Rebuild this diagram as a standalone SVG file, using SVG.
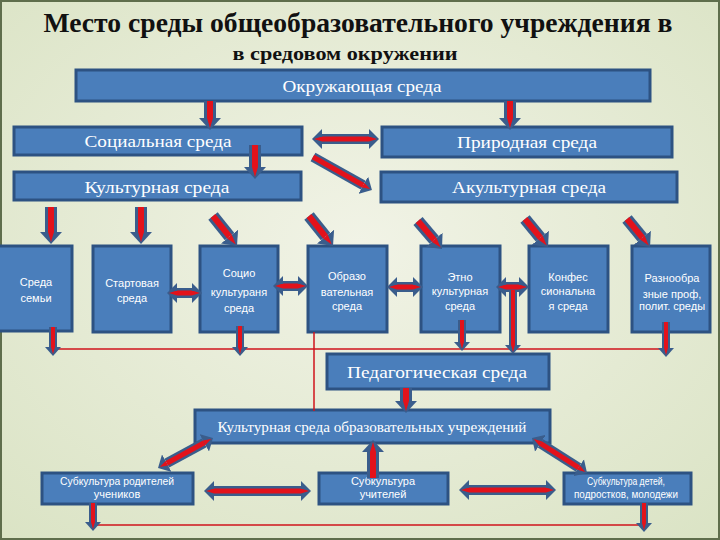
<svg xmlns="http://www.w3.org/2000/svg" width="720" height="540" viewBox="0 0 720 540">
<defs>
<radialGradient id="bg" cx="50%" cy="45%" r="75%">
<stop offset="0" stop-color="#f1f3e6"/>
<stop offset="1" stop-color="#dae3c4"/>
</radialGradient>
<marker id="hb" viewBox="0 -11 12 22" refX="0" refY="0" markerWidth="12" markerHeight="22" markerUnits="userSpaceOnUse" orient="auto-start-reverse"><path d="M0,-11 L12,0 L0,11 Z" fill="#3a5d8c"/></marker>
<marker id="rb" viewBox="0 -3 10 6" refX="0" refY="0" markerWidth="10" markerHeight="6" markerUnits="userSpaceOnUse" orient="auto-start-reverse"><path d="M0,-3 L10,0 L0,3 Z" fill="#e3121b"/></marker>
<marker id="hm" viewBox="0 -10 10 20" refX="0" refY="0" markerWidth="10" markerHeight="20" markerUnits="userSpaceOnUse" orient="auto-start-reverse"><path d="M0,-10 L10,0 L0,10 Z" fill="#3a5d8c"/></marker>
<marker id="rm" viewBox="0 -2.5 8 5" refX="0" refY="0" markerWidth="8" markerHeight="5" markerUnits="userSpaceOnUse" orient="auto-start-reverse"><path d="M0,-2.5 L8,0 L0,2.5 Z" fill="#e3121b"/></marker>
<marker id="hs" viewBox="0 -8 9 16" refX="0" refY="0" markerWidth="9" markerHeight="16" markerUnits="userSpaceOnUse" orient="auto-start-reverse"><path d="M0,-8 L9,0 L0,8 Z" fill="#3a5d8c"/></marker>
<marker id="rs" viewBox="0 -2 7 4" refX="0" refY="0" markerWidth="7" markerHeight="4" markerUnits="userSpaceOnUse" orient="auto-start-reverse"><path d="M0,-2 L7,0 L0,2 Z" fill="#e3121b"/></marker>
</defs>
<style>
.box{fill:#4a7ebb;stroke:#2d5282;stroke-width:3}
.t{fill:#fff;font-family:"Liberation Serif",serif;text-anchor:middle}
.ts{fill:#fff;font-family:"Liberation Sans",sans-serif;text-anchor:middle;font-size:11px}
.title{fill:#111;font-family:"Liberation Serif",serif;font-weight:bold;text-anchor:middle}
.b1{stroke:#3a5d8c;stroke-width:12;fill:none;marker-end:url(#hb)}
.r1{stroke:#e3121b;stroke-width:6;fill:none;marker-end:url(#rb)}
.b2{stroke:#3a5d8c;stroke-width:10;fill:none;marker-end:url(#hm)}
.r2{stroke:#e3121b;stroke-width:5;fill:none;marker-end:url(#rm)}
.b2d{stroke:#3a5d8c;stroke-width:10;fill:none;marker-start:url(#hm);marker-end:url(#hm)}
.r2d{stroke:#e3121b;stroke-width:5;fill:none;marker-start:url(#rm);marker-end:url(#rm)}
.b3{stroke:#3a5d8c;stroke-width:8;fill:none;marker-end:url(#hs)}
.r3{stroke:#e3121b;stroke-width:4;fill:none;marker-end:url(#rs)}
.thin{stroke:#d0141c;stroke-width:1.5;fill:none}
</style>
<rect x="0" y="0" width="720" height="540" fill="url(#bg)"/>
<rect x="1" y="1" width="718" height="538" fill="none" stroke="#5f6e4c" stroke-width="2"/>

<g id="title">
<text class="title" x="358" y="32" font-size="27" textLength="629" lengthAdjust="spacingAndGlyphs">Место среды общеобразовательного учреждения в</text>
<text class="title" x="345" y="60" font-size="19" textLength="225" lengthAdjust="spacingAndGlyphs">в средовом окружении</text>
</g>

<g id="okr"><rect class="box" x="76" y="70" width="574" height="31"/><text class="t" x="362" y="92" font-size="16" textLength="159" lengthAdjust="spacingAndGlyphs">Окружающая среда</text></g>
<g id="soc"><rect class="box" x="14" y="127" width="288" height="28"/><text class="t" x="158" y="147" font-size="16" textLength="147" lengthAdjust="spacingAndGlyphs">Социальная среда</text></g>
<g id="prir"><rect class="box" x="382" y="127" width="290" height="30"/><text class="t" x="527" y="148" font-size="16" textLength="140" lengthAdjust="spacingAndGlyphs">Природная среда</text></g>
<g id="kult"><rect class="box" x="14" y="172" width="287" height="28"/><text class="t" x="157" y="193" font-size="16" textLength="145" lengthAdjust="spacingAndGlyphs">Культурная среда</text></g>
<g id="akult"><rect class="box" x="381" y="172" width="296" height="30"/><text class="t" x="529" y="193" font-size="16" textLength="154" lengthAdjust="spacingAndGlyphs">Акультурная среда</text></g>

<g id="semya"><rect class="box" x="-2" y="246" width="74" height="85"/><text class="ts" x="36" y="286">Среда</text><text class="ts" x="36" y="302">семьи</text></g>
<g id="start"><rect class="box" x="93" y="246" width="78" height="86"/><text class="ts" x="132" y="287">Стартовая</text><text class="ts" x="132" y="302">среда</text></g>
<g id="sociokult"><rect class="box" x="200" y="246" width="78" height="86"/><text class="ts" x="239" y="277">Социо</text><text class="ts" x="239" y="296">культураня</text><text class="ts" x="239" y="312">среда</text></g>
<g id="obraz"><rect class="box" x="308" y="246" width="79" height="86"/><text class="ts" x="347" y="280">Образо</text><text class="ts" x="347" y="296">вательная</text><text class="ts" x="347" y="310">среда</text></g>
<g id="etno"><rect class="box" x="421" y="246" width="79" height="86"/><text class="ts" x="460" y="281">Этно</text><text class="ts" x="460" y="295">культурная</text><text class="ts" x="460" y="310">среда</text></g>
<g id="konf"><rect class="box" x="529" y="246" width="79" height="86"/><text class="ts" x="568" y="281">Конфес</text><text class="ts" x="568" y="295">сиональна</text><text class="ts" x="568" y="310">я среда</text></g>
<g id="raznoobr"><rect class="box" x="632" y="246" width="78" height="86"/><text class="ts" x="672" y="282" font-size="10.5">Разнообра</text><text class="ts" x="672" y="298" font-size="10">зные проф,</text><text class="ts" x="672" y="310" font-size="10">полит. среды</text></g>

<g id="ped"><rect class="box" x="327" y="354" width="222" height="35"/><text class="t" x="437" y="378" font-size="17" textLength="180" lengthAdjust="spacingAndGlyphs">Педагогическая среда</text></g>
<g id="ksou"><rect class="box" x="195" y="410" width="355" height="33"/><text class="t" x="372" y="432" font-size="14" textLength="309" lengthAdjust="spacingAndGlyphs">Культурная среда образовательных учреждений</text></g>

<g id="sub-rod"><rect class="box" x="42" y="473" width="151" height="31"/><text class="ts" x="117" y="485" font-size="10" textLength="114" lengthAdjust="spacingAndGlyphs">Субкультура родителей</text><text class="ts" x="117" y="498" font-size="10">учеников</text></g>
<g id="sub-uch"><rect class="box" x="319" y="473" width="129" height="31"/><text class="ts" x="383" y="485" font-size="11">Субкультура</text><text class="ts" x="383" y="498" font-size="11">учителей</text></g>
<g id="sub-det"><rect class="box" x="564" y="473" width="127" height="31"/><text class="ts" x="626" y="485" font-size="9" textLength="78" lengthAdjust="spacingAndGlyphs">Субкультура детей,</text><text class="ts" x="626" y="498" font-size="9" textLength="104" lengthAdjust="spacingAndGlyphs">подростков, молодежи</text></g>

<g id="connectors">
<path class="thin" d="M53,349 H666 M314,332 V411 M93,525 H644"/>
<!-- top -->
<line class="b1" x1="210" y1="101" x2="210" y2="118"/><line class="r1" x1="210" y1="101" x2="210" y2="118"/>
<line class="b1" x1="510" y1="101" x2="510" y2="118"/><line class="r1" x1="510" y1="101" x2="510" y2="118"/>
<line class="b1" x1="255" y1="145" x2="255" y2="167"/><line class="r1" x1="255" y1="145" x2="255" y2="167"/>
<line class="b2d" x1="322" y1="139" x2="369" y2="139"/><line class="r2d" x1="322" y1="139" x2="369" y2="139"/>
<line class="b2" x1="313" y1="157" x2="363.2" y2="185.2"/><line class="r2" x1="313" y1="157" x2="363.2" y2="185.2"/>
<!-- into row -->
<line class="b1" x1="51" y1="207" x2="51" y2="232"/><line class="r1" x1="51" y1="207" x2="51" y2="232"/>
<line class="b1" x1="141" y1="207" x2="141" y2="232"/><line class="r1" x1="141" y1="207" x2="141" y2="232"/>
<line class="b1" x1="213" y1="216" x2="229.5" y2="236.6"/><line class="r1" x1="213" y1="216" x2="229.5" y2="236.6"/>
<line class="b1" x1="309" y1="216" x2="325.5" y2="236.6"/><line class="r1" x1="309" y1="216" x2="325.5" y2="236.6"/>
<line class="b1" x1="418" y1="221" x2="434.2" y2="239.9"/><line class="r1" x1="418" y1="221" x2="434.2" y2="239.9"/>
<line class="b1" x1="525" y1="219" x2="540.4" y2="237.7"/><line class="r1" x1="525" y1="219" x2="540.4" y2="237.7"/>
<line class="b1" x1="627" y1="219" x2="642.4" y2="237.7"/><line class="r1" x1="627" y1="219" x2="642.4" y2="237.7"/>
<!-- row horizontals -->
<line class="b2d" x1="177" y1="293" x2="192" y2="293"/><line class="r2d" x1="177" y1="293" x2="192" y2="293"/>
<line class="b2d" x1="283" y1="286" x2="298" y2="286"/><line class="r2d" x1="283" y1="286" x2="298" y2="286"/>
<line class="b2d" x1="397" y1="287" x2="413" y2="287"/><line class="r2d" x1="397" y1="287" x2="413" y2="287"/>
<line class="b2d" x1="506" y1="287" x2="519" y2="287"/><line class="r2d" x1="506" y1="287" x2="519" y2="287"/>
<!-- down from row -->
<line class="b3" x1="53" y1="327" x2="53" y2="347"/><line class="r3" x1="53" y1="327" x2="53" y2="347"/>
<line class="b3" x1="240" y1="326" x2="240" y2="347"/><line class="r3" x1="240" y1="326" x2="240" y2="347"/>
<line class="b3" x1="462" y1="320" x2="462" y2="342"/><line class="r3" x1="462" y1="320" x2="462" y2="342"/>
<line class="b3" x1="513" y1="290" x2="513" y2="345"/><line class="r3" x1="513" y1="290" x2="513" y2="345"/>
<line class="b3" x1="666" y1="322" x2="666" y2="348"/><line class="r3" x1="666" y1="322" x2="666" y2="348"/>
<!-- ped to ksou -->
<line class="b1" x1="406" y1="388" x2="406" y2="401"/><line class="r1" x1="406" y1="388" x2="406" y2="401"/>
<!-- bottom -->
<line class="b1" x1="373" y1="478" x2="373" y2="452"/><line class="r1" x1="373" y1="478" x2="373" y2="452"/>
<line class="b2d" x1="166.8" y1="463.2" x2="204.2" y2="442.8"/><line class="r2d" x1="166.8" y1="463.2" x2="204.2" y2="442.8"/>
<line class="b2d" x1="540.4" y1="443.4" x2="578.6" y2="467.6"/><line class="r2d" x1="540.4" y1="443.4" x2="578.6" y2="467.6"/>
<line class="b2d" x1="214" y1="491" x2="301" y2="491"/><line class="r2d" x1="214" y1="491" x2="301" y2="491"/>
<line class="b2d" x1="469" y1="490" x2="546" y2="490"/><line class="r2d" x1="469" y1="490" x2="546" y2="490"/>
<line class="b3" x1="93" y1="503" x2="93" y2="522"/><line class="r3" x1="93" y1="503" x2="93" y2="522"/>
<line class="b3" x1="644" y1="503" x2="644" y2="523"/><line class="r3" x1="644" y1="503" x2="644" y2="523"/>
</g>
</svg>
